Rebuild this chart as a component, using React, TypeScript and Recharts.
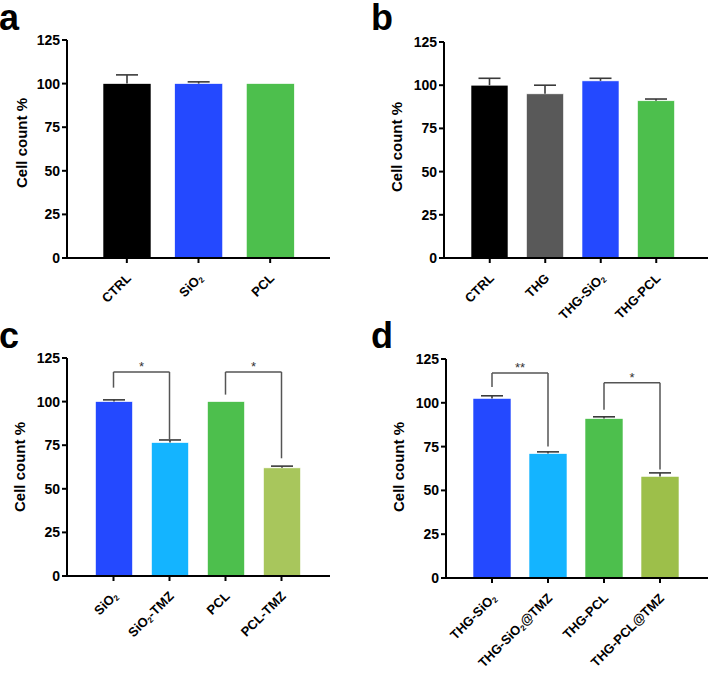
import React from "react";
import { Bar, BarChart, ReferenceLine, XAxis, YAxis } from "recharts";

const FONT = "'Liberation Sans', Arial, Helvetica, sans-serif";

const yTicks = [0, 25, 50, 75, 100, 125];

// panel a
const groupsA = ["CTRL", "SiO2", "PCL"];
const meansA = [100, 100, 100];
const errorsA = [5, 1, 0];
const colorsA = ["#000000", "#2449FF", "#4DBF4D"];

// panel b
const groupsB = ["CTRL", "THG", "THG-SiO2", "THG-PCL"];
const meansB = [100, 95, 102.5, 91];
const errorsB = [4, 5, 1.5, 1];
const colorsB = ["#000000", "#595959", "#2449FF", "#4DBF4D"];

// panel c
const groupsC = ["SiO2", "SiO2-TMZ", "PCL", "PCL-TMZ"];
const meansC = [100, 76.5, 100, 62];
const errorsC = [1, 1.5, 0, 1];
const colorsC = ["#2449FF", "#14B4FF", "#4DBF4D", "#A8C65C"];

// panel d
const groupsD = ["THG-SiO2", "THG-SiO2@TMZ", "THG-PCL", "THG-PCL@TMZ"];
const meansD = [102.5, 71, 91, 58];
const errorsD = [1.5, 1, 1, 2];
const colorsD = ["#2449FF", "#14B4FF", "#4DBF4D", "#9DBF4A"];

// significance brackets: [from, to, bracket top, left leg end, right leg end, mark]
const bracketsC: [string, string, number, number, number, string][] = [
  ["SiO2", "SiO2-TMZ", 117, 108, 78.5, "*"],
  ["PCL", "PCL-TMZ", 117, 104, 67.5, "*"],
];
const bracketsD: [string, string, number, number, number, string][] = [
  ["THG-SiO2", "THG-SiO2@TMZ", 117, 109, 75, "**"],
  ["THG-PCL", "THG-PCL@TMZ", 111.5, 96, 62, "*"],
];

type Row = { name: string; mean: number; err: number; color: string };

function buildRows(names: string[], means: number[], errs: number[], colors: string[]): Row[] {
  return names.map((name, i) => ({ name, mean: means[i], err: errs[i], color: colors[i] }));
}

// bar plus a one-sided (upper) error bar, scaled from the bar's own height
function BarWithError(props: any) {
  const { x, y, width, height, payload } = props;
  const perUnit = payload.mean > 0 ? height / payload.mean : 0;
  const errPx = payload.err * perUnit;
  const cx = x + width / 2;
  return (
    <g>
      <rect x={x} y={y} width={width} height={height} fill={payload.color} stroke="#ffffff" strokeWidth={0.6} />
      {payload.err > 0 && (
        <g stroke="#3a3a3a" strokeWidth={1.6}>
          <line x1={cx} x2={cx} y1={y} y2={y - errPx} />
          <line x1={cx - 11} x2={cx + 11} y1={y - errPx} y2={y - errPx} />
        </g>
      )}
    </g>
  );
}

// "SiO2" gets a subscript 2
function labelParts(text: string) {
  const pieces = text.split("SiO2");
  const out: React.ReactNode[] = [];
  pieces.forEach((p, i) => {
    if (i > 0) {
      out.push(<tspan key={`s${i}`}>SiO</tspan>);
      out.push(
        <tspan key={`d${i}`} fontSize={8} dy={2}>
          2
        </tspan>
      );
      out.push(
        <tspan key={`p${i}`} dy={-2}>
          {p}
        </tspan>
      );
    } else if (p) {
      out.push(<tspan key={`p${i}`}>{p}</tspan>);
    }
  });
  return out;
}

function RotatedTick(props: any) {
  const { x, y, payload } = props;
  return (
    <g transform={`translate(${x + 5},${y + 14}) rotate(-45)`}>
      <text x={0} y={0} textAnchor="end" fontFamily={FONT} fontWeight="bold" fontSize={13} fill="#000">
        {labelParts(payload.value)}
      </text>
    </g>
  );
}

type PanelProps = {
  rows: Row[];
  left: number;
  top: number;
  width: number;
  height: number;
  margin: { top: number; right: number; left: number; bottom: number };
  padding: { left: number; right: number };
  barSize: number;
  brackets?: [string, string, number, number, number, string][];
};

function Panel({ rows, left, top, width, height, margin, padding, barSize, brackets = [] }: PanelProps) {
  const lines: React.ReactNode[] = [];
  brackets.forEach(([from, to, yTop, yLeft, yRight, mark], i) => {
    lines.push(
      <ReferenceLine
        key={`h${i}`}
        segment={[{ x: from, y: yTop }, { x: to, y: yTop }]}
        stroke="#555"
        strokeWidth={1.5}
        label={{ value: mark, position: "top", offset: 1, fontFamily: FONT, fontSize: 13, fill: "#333" }}
      />
    );
    lines.push(
      <ReferenceLine key={`l${i}`} segment={[{ x: from, y: yLeft }, { x: from, y: yTop }]} stroke="#555" strokeWidth={1.5} />
    );
    lines.push(
      <ReferenceLine key={`r${i}`} segment={[{ x: to, y: yRight }, { x: to, y: yTop }]} stroke="#555" strokeWidth={1.5} />
    );
  });

  return (
    <div style={{ position: "absolute", left, top, width, height }}>
      <BarChart width={width} height={height} data={rows} margin={margin}>
        <XAxis
          dataKey="name"
          type="category"
          interval={0}
          padding={padding}
          tickSize={5}
          tickMargin={2}
          axisLine={{ stroke: "#000", strokeWidth: 2 }}
          tickLine={{ stroke: "#000", strokeWidth: 2 }}
          tick={(p: any) => <RotatedTick {...p} />}
          height={60}
        />
        <YAxis
          type="number"
          domain={[0, 125]}
          ticks={yTicks}
          interval={0}
          width={45}
          tickSize={5}
          tickMargin={2}
          axisLine={{ stroke: "#000", strokeWidth: 2 }}
          tickLine={{ stroke: "#000", strokeWidth: 2 }}
          tick={{ fontFamily: FONT, fontWeight: "bold", fontSize: 14, fill: "#000" }}
        />
        <Bar dataKey="mean" barSize={barSize} isAnimationActive={false} shape={<BarWithError />} />
        {lines}
      </BarChart>
    </div>
  );
}

const panelLetters: [string, number, number][] = [
  ["a", -1, 30],
  ["b", 371, 30],
  ["c", -1, 348],
  ["d", 371, 348],
];

const yLabelSpots: [number, number][] = [
  [21, 143],
  [396, 147],
  [19, 467],
  [398, 467],
];

export default function App() {
  return (
    <div style={{ position: "absolute", left: 0, top: 0, width: 709, height: 681, background: "#fff" }}>
      <Panel
        rows={buildRows(groupsA, meansA, errorsA, colorsA)}
        left={0}
        top={0}
        width={340}
        height={330}
        margin={{ top: 40, right: 10, left: 22, bottom: 12 }}
        padding={{ left: 24, right: 24 }}
        barSize={48}
      />
      <Panel
        rows={buildRows(groupsB, meansB, errorsB, colorsB)}
        left={350}
        top={0}
        width={359}
        height={330}
        margin={{ top: 42, right: 1, left: 49, bottom: 12 }}
        padding={{ left: 18, right: 24 }}
        barSize={37}
      />
      <Panel
        rows={buildRows(groupsC, meansC, errorsC, colorsC)}
        left={0}
        top={330}
        width={340}
        height={351}
        margin={{ top: 28, right: 10, left: 22, bottom: 45 }}
        padding={{ left: 18.5, right: 20.5 }}
        barSize={37}
        brackets={bracketsC}
      />
      <Panel
        rows={buildRows(groupsD, meansD, errorsD, colorsD)}
        left={350}
        top={330}
        width={359}
        height={351}
        margin={{ top: 29, right: 1, left: 51, bottom: 43 }}
        padding={{ left: 18, right: 20 }}
        barSize={38}
        brackets={bracketsD}
      />
      <svg width={709} height={681} style={{ position: "absolute", left: 0, top: 0, pointerEvents: "none" }}>
        {panelLetters.map(([t, x, y]) => (
          <text key={t} x={x} y={y} fontFamily={FONT} fontWeight="bold" fontSize={36} fill="#000">
            {t}
          </text>
        ))}
        {yLabelSpots.map(([x, y], i) => (
          <text
            key={i}
            transform={`translate(${x},${y}) rotate(-90)`}
            textAnchor="middle"
            dominantBaseline="central"
            fontFamily={FONT}
            fontWeight="bold"
            fontSize={15}
            fill="#000"
          >
            Cell count %
          </text>
        ))}
      </svg>
    </div>
  );
}
